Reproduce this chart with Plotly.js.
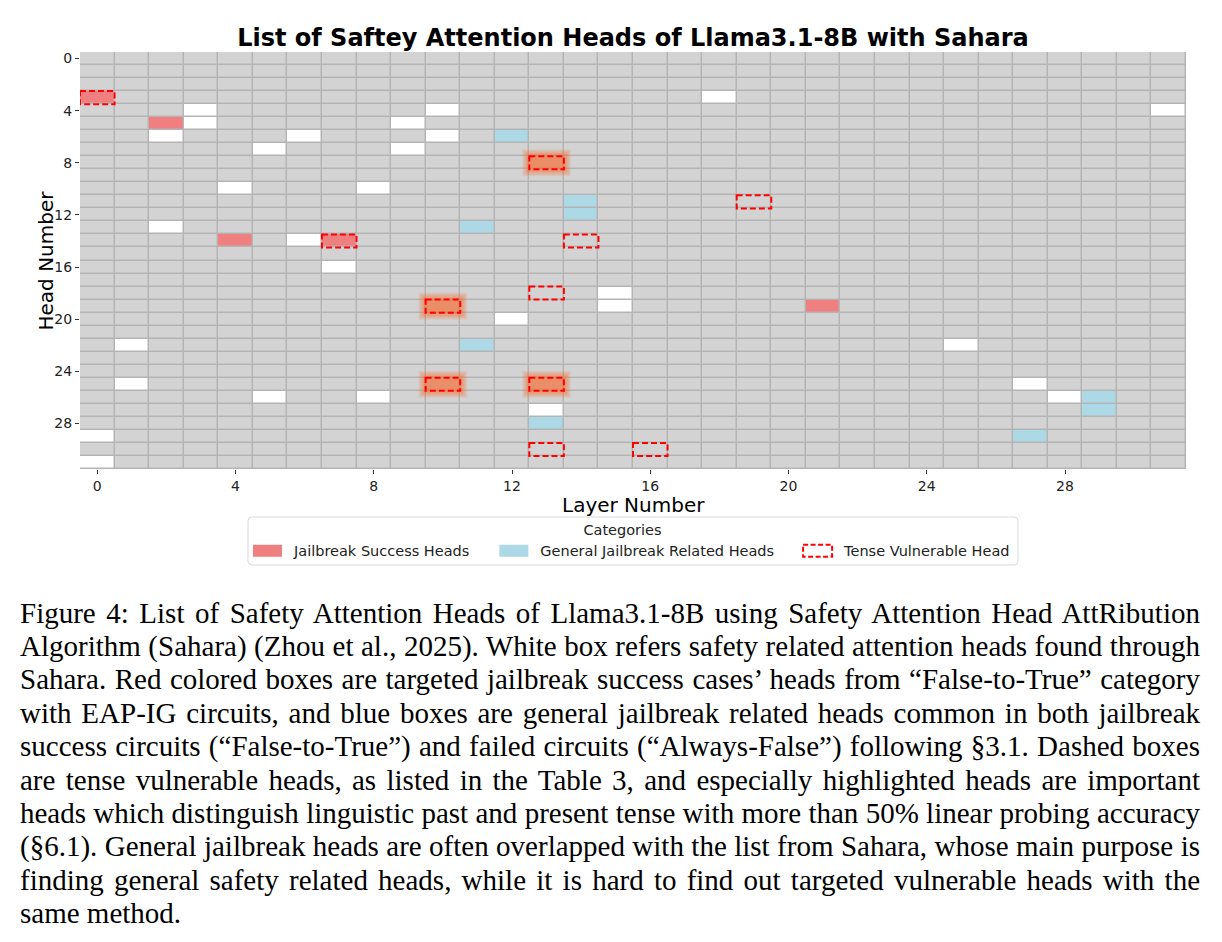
<!DOCTYPE html>
<html>
<head>
<meta charset="utf-8">
<script src="https://cdn.plot.ly/plotly-3.0.1.min.js"></script>
<style>
  body { margin: 0; background: #ffffff; }
  #chart { position: absolute; left: 0; top: 0; width: 1222px; height: 942px; }
  #caption { position: absolute; left: 20px; top: 596.5px; width: 1180px;
    font-family: "Liberation Serif", "Times New Roman", serif; font-size: 29px;
    line-height: 33.4px; color: #000; }
  #caption .ln { text-align: justify; text-align-last: justify; white-space: nowrap; }
  #caption .last { text-align: left; text-align-last: left; white-space: nowrap; }
</style>
</head>
<body>
<div id="chart"></div>
<div id="caption">
  <div class="ln">Figure 4: List of Safety Attention Heads of Llama3.1-8B using Safety Attention Head AttRibution</div>
  <div class="ln">Algorithm (Sahara) (Zhou et al., 2025). White box refers safety related attention heads found through</div>
  <div class="ln">Sahara. Red colored boxes are targeted jailbreak success cases’ heads from “False-to-True” category</div>
  <div class="ln">with EAP-IG circuits, and blue boxes are general jailbreak related heads common in both jailbreak</div>
  <div class="ln">success circuits (“False-to-True”) and failed circuits (“Always-False”) following §3.1. Dashed boxes</div>
  <div class="ln">are tense vulnerable heads, as listed in the Table 3, and especially highlighted heads are important</div>
  <div class="ln">heads which distinguish linguistic past and present tense with more than 50% linear probing accuracy</div>
  <div class="ln">(§6.1). General jailbreak heads are often overlapped with the list from Sahara, whose main purpose is</div>
  <div class="ln">finding general safety related heads, while it is hard to find out targeted vulnerable heads with the</div>
  <div class="last">same method.</div>
</div>
<script>
// ---- data ----
const numLayers = 32;
const numHeads = 32;
const tickVals = [0, 4, 8, 12, 16, 20, 24, 28];

// Sahara safety heads (white boxes): [layer, head]
const saharaLayers = [3, 3, 2, 6, 5, 9, 9, 10, 10, 4, 8, 2, 6, 18, 31, 7, 15, 15, 12, 1, 25, 1, 27, 5, 8, 28, 13, 0, 0];
const saharaHeads  = [4, 5, 6, 6, 7, 5, 7, 4, 6, 10, 10, 13, 14, 3, 4, 16, 18, 19, 20, 22, 22, 25, 25, 26, 26, 26, 27, 29, 31];

// Jailbreak success heads (red)
const successLayers = [0, 2, 4, 7, 21];
const successHeads  = [3, 5, 14, 14, 19];

// General jailbreak related heads (blue)
const generalLayers = [12, 14, 14, 11, 11, 13, 29, 29, 27];
const generalHeads  = [6, 11, 12, 13, 22, 28, 26, 27, 29];

// Tense vulnerable heads (dashed)
const tenseLayers = [0, 7, 13, 19, 14, 13, 10, 10, 13, 13, 16];
const tenseHeads  = [3, 14, 8, 11, 14, 18, 19, 25, 25, 30, 30];
// highlighted (>50% probing accuracy)
const highlightLayers = [13, 10, 10, 13];
const highlightHeads  = [8, 19, 25, 25];

const legendNames = ["Jailbreak Success Heads", "General Jailbreak Related Heads", "Tense Vulnerable Head"];

// ---- build matrix ----
const z = [];
for (let h = 0; h < numHeads; h++) { z.push(new Array(numLayers).fill(0)); }
saharaLayers.forEach((l, i) => { z[saharaHeads[i]][l] = 1; });
successLayers.forEach((l, i) => { z[successHeads[i]][l] = 2; });
generalLayers.forEach((l, i) => { z[generalHeads[i]][l] = 3; });

const xs = Array.from({length: numLayers}, (_, i) => i);
const ys = Array.from({length: numHeads}, (_, i) => i);

const GRAY = '#d3d3d3', WHITE = '#ffffff', RED = '#f08080', BLUE = '#add8e6';

const heat = {
  type: 'heatmap', x: xs, y: ys, z: z, zmin: 0, zmax: 3,
  colorscale: [[0, GRAY], [0.1667, GRAY], [0.1667, WHITE], [0.5, WHITE], [0.5, RED], [0.8333, RED], [0.8333, BLUE], [1, BLUE]],
  showscale: false, xgap: 1.5, ygap: 1.5, hoverinfo: 'skip', showlegend: false
};

const shapes = [];
// glow for highlighted heads
const pxX = 1 / 34.56, pxY = 1 / 13.03;
highlightLayers.forEach((l, i) => {
  const h = highlightHeads[i];
  for (let k = 0; k <= 7; k++) {
    shapes.push({type: 'rect', xref: 'x', yref: 'y', layer: 'above',
      x0: l - 0.5 - k * pxX, x1: l + 0.5 + k * pxX,
      y0: h - 0.5 - k * pxY, y1: h + 0.5 + k * pxY,
      line: {width: 0}, fillcolor: 'rgba(255,95,25,0.10)'});
  }
});
// dashed boxes
tenseLayers.forEach((l, i) => {
  const h = tenseHeads[i];
  shapes.push({type: 'rect', xref: 'x', yref: 'y', layer: 'above',
    x0: l - 0.5, x1: l + 0.5, y0: h - 0.5, y1: h + 0.5,
    line: {color: '#ff0000', width: 2, dash: '6px,3px'}, fillcolor: 'rgba(0,0,0,0)'});
});
// legend frame (rounded box)
const fx0 = (248 - 80) / 1106, fx1 = (1018 - 80) / 1106;
const fy0 = -(517 - 469) / 417, fy1 = -(565 - 469) / 417;
const rx = 4 / 1106, ry = 4 / 417;
shapes.push({type: 'path', xref: 'paper', yref: 'paper', layer: 'above',
  path: `M${fx0 + rx},${fy0} L${fx1 - rx},${fy0} Q${fx1},${fy0} ${fx1},${fy0 - ry} L${fx1},${fy1 + ry} Q${fx1},${fy1} ${fx1 - rx},${fy1} L${fx0 + rx},${fy1} Q${fx0},${fy1} ${fx0},${fy1 + ry} L${fx0},${fy0 - ry} Q${fx0},${fy0} ${fx0 + rx},${fy0} Z`,
  line: {color: '#d9d9d9', width: 1}, fillcolor: 'rgba(255,255,255,0.8)'});
// legend entries (out of view, legend only)
shapes.push({type: 'rect', xref: 'x', yref: 'y', x0: 60, x1: 61, y0: 60, y1: 61,
  showlegend: true, name: legendNames[0], legendrank: 1, line: {width: 0}, fillcolor: RED});
shapes.push({type: 'rect', xref: 'x', yref: 'y', x0: 60, x1: 61, y0: 60, y1: 61,
  showlegend: true, name: legendNames[1], legendrank: 2, line: {width: 0}, fillcolor: BLUE});
shapes.push({type: 'rect', xref: 'x', yref: 'y', x0: 60, x1: 61, y0: 60, y1: 61,
  showlegend: true, name: legendNames[2], legendrank: 3, line: {color: '#ff0000', width: 2, dash: '5px,2.5px'}, fillcolor: 'rgba(0,0,0,0)'});

const font = 'DejaVu Sans, sans-serif';
const layout = {
  width: 1222, height: 942,
  margin: {l: 80, r: 36, t: 52, b: 473},
  paper_bgcolor: '#ffffff', plot_bgcolor: '#b4b4b4',
  title: {text: 'List of Saftey Attention Heads of Llama3.1-8B with Sahara',
    font: {family: font, size: 24, color: '#000', weight: 'bold'},
    x: 0.5, xref: 'paper', xanchor: 'center', yref: 'container', y: 1 - 38 / 942, yanchor: 'middle'},
  xaxis: {range: [-0.5, 31.5], tickvals: tickVals, ticks: 'outside', ticklen: 4, tickcolor: '#333',
    showgrid: false, zeroline: false, showline: false, fixedrange: true,
    tickfont: {family: font, size: 14, color: '#222'}},
  yaxis: {range: [31.5, -0.5], tickvals: tickVals, ticks: 'outside', ticklen: 4, tickcolor: '#333',
    showgrid: false, zeroline: false, showline: false, fixedrange: true,
    tickfont: {family: font, size: 14, color: '#222'}},
  annotations: [
    {text: 'Layer Number', xref: 'paper', yref: 'paper', x: 0.5, y: -(491 - 469) / 417,
      xanchor: 'center', yanchor: 'top', showarrow: false, font: {family: font, size: 20, color: '#000'}},
    {text: 'Head Number', xref: 'paper', yref: 'paper', x: (45 - 80) / 1106, y: 0.5, textangle: -90,
      xanchor: 'center', yanchor: 'middle', showarrow: false, font: {family: font, size: 20, color: '#000'}}
  ],
  showlegend: true,
  legend: {orientation: 'h', x: (229 - 80) / 1106, xanchor: 'left', y: -(516 - 469) / 417, yanchor: 'top',
    bgcolor: 'rgba(0,0,0,0)', borderwidth: 0, itemwidth: 55,
    font: {family: font, size: 14.5, color: '#222'},
    title: {text: 'Categories', side: 'top center', font: {family: font, size: 14.5, color: '#222'}}},
  shapes: shapes
};

Plotly.newPlot('chart', [heat], layout, {displayModeBar: false, staticPlot: true}).then(gd => {
  // legend icons as wide patches like the original figure
  gd.querySelectorAll('.legend .traces').forEach((g, idx) => {
    g.querySelectorAll('path').forEach(p => {
      p.removeAttribute('transform');
      p.setAttribute('d', 'M24,-6h29v12h-29z');
      if (idx === 2) { p.style.strokeDasharray = '5px,2.5px'; p.style.strokeWidth = '2px'; }
    });
  });
});
</script>
</body>
</html>
